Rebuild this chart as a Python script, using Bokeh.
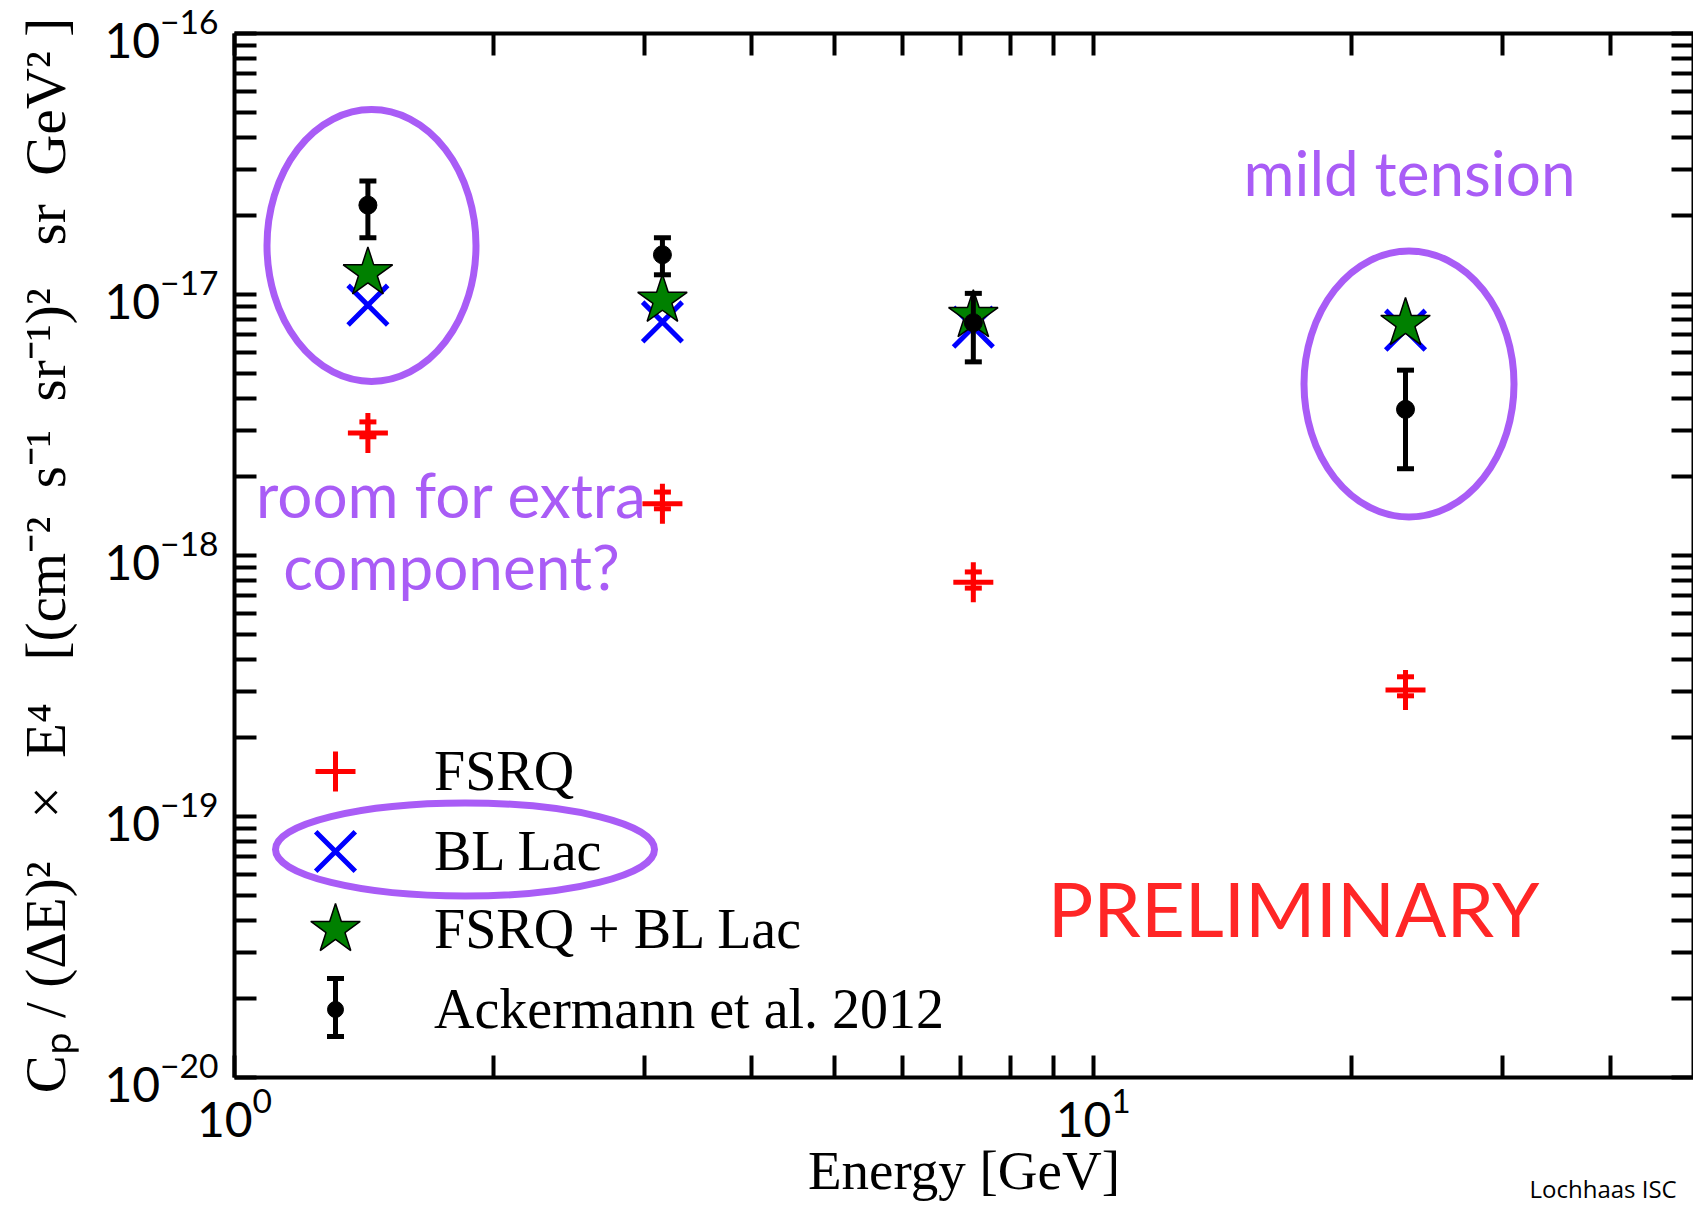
import numpy as np
from bokeh.plotting import figure
from bokeh.models import (Range1d, LogAxis, FixedTicker, CustomJSTickFormatter, Whisker, TeeHead,
                          ColumnDataSource, Legend, LegendItem, Label, Title)
from bokeh.embed import file_html
from bokeh.resources import INLINE

# ---------------- data ----------------
energy = [1.43, 3.15, 7.25, 23.1]                       # GeV
fsrq = [2.95e-18, 1.58e-18, 7.9e-19, 3.05e-19]
fsrq_hi = [3.25e-18, 1.75e-18, 8.65e-19, 3.43e-19]
fsrq_lo = [2.85e-18, 1.51e-18, 7.5e-19, 2.9e-19]
bllac = [9.1e-18, 7.85e-18, 7.5e-18, 7.3e-18]
combined = [1.21e-17, 9.5e-18, 8.3e-18, 7.74e-18]
ackermann = [2.20e-17, 1.42e-17, 7.8e-18, 3.63e-18]
ack_hi = [2.72e-17, 1.65e-17, 1.01e-17, 5.13e-18]
ack_lo = [1.65e-17, 1.19e-17, 5.52e-18, 2.15e-18]

x_major = [1, 10]
x_minor = [2, 3, 4, 5, 6, 7, 8, 9, 20, 30, 40]
y_major = [1e-20, 1e-19, 1e-18, 1e-17, 1e-16]
y_minor = [k * 10.0 ** e for e in range(-20, -16) for k in range(2, 10)]

series_labels = ["FSRQ", "BL Lac", "FSRQ + BL Lac", "Ackermann et al. 2012"]

# ---------------- layout constants ----------------
W, H = 1693, 1205
FL, FT, FR, FB = 234, 33, 1693, 1077
XMIN, XMAX = 1.0, 50.0
YMIN, YMAX = 1e-20, 1e-16
PX_DEC_X = (FR - FL) / (np.log10(XMAX) - np.log10(XMIN))
PX_DEC_Y = (FB - FT) / (np.log10(YMAX) - np.log10(YMIN))


def sx(px):
    return 10 ** (np.log10(XMIN) + (px - FL) / PX_DEC_X)


def sy(py):
    return 10 ** (np.log10(YMAX) - (py - FT) / PX_DEC_Y)


PURPLE = "#A95CF6"
SERIF = "Liberation Serif"
SANS = "Lato"
NB = "\u00a0"

p = figure(width=W, height=H, x_axis_type="log", y_axis_type="log",
           x_range=Range1d(XMIN, XMAX), y_range=Range1d(YMIN, YMAX),
           output_backend="svg", toolbar_location=None,
           min_border_left=FL, min_border_right=0, min_border_top=FT,
           min_border_bottom=H - FB)
p.outline_line_color = None
p.xgrid.visible = False
p.ygrid.visible = False
p.background_fill_color = "white"
p.border_fill_color = "white"


def style_axis(ax, tick_len=22):
    ax.axis_line_width = 4
    ax.axis_line_color = "black"
    ax.major_tick_in = tick_len
    ax.major_tick_out = 0
    ax.minor_tick_in = tick_len
    ax.minor_tick_out = 0
    ax.major_tick_line_width = 4
    ax.minor_tick_line_width = 4
    ax.major_tick_line_color = "black"
    ax.minor_tick_line_color = "black"
    ax.major_label_text_color = "black"
    ax.axis_label_text_color = "black"


# bottom / left axes
xa = p.xaxis[0]
xa.ticker = FixedTicker(ticks=x_major, minor_ticks=x_minor)
style_axis(xa)
xa.major_label_text_font = SANS
xa.major_label_text_font_size = "48px"
xa.major_label_standoff = 10
xa.axis_label = "Energy [GeV]"
xa.axis_label_text_font = SERIF
xa.axis_label_text_font_size = "55px"
xa.axis_label_text_font_style = "normal"
xa.axis_label_standoff = 0

ya = p.yaxis[0]
ya.ticker = FixedTicker(ticks=y_major, minor_ticks=y_minor)
style_axis(ya)
ya.major_label_text_font = SANS
ya.major_label_text_font_size = "48px"
ya.major_label_standoff = 16
ya.axis_label = ("Cₚ" + NB + "/" + NB + "(ΔE)²" + NB * 3 + "×" + NB * 2 + "E⁴" + NB * 3 +
                 "[(cm⁻²" + NB * 2 + "s⁻¹" + NB * 2 + "sr⁻¹)²" + NB * 3 + "sr" + NB * 2 + "GeV²" + NB + "]")
ya.axis_label_text_font = SERIF
ya.axis_label_text_font_size = "57px"
ya.axis_label_text_font_style = "normal"
ya.axis_label_standoff = 24

blank = CustomJSTickFormatter(code="return ''")
top = LogAxis(ticker=FixedTicker(ticks=x_major, minor_ticks=x_minor), formatter=blank,
              major_label_standoff=0)
style_axis(top)
p.add_layout(top, "above")
right = LogAxis(ticker=FixedTicker(ticks=y_major, minor_ticks=y_minor), formatter=blank,
                major_label_standoff=0)
style_axis(right)
p.add_layout(right, "right")

# footer text at the bottom-right corner (a panel title, so it is not clipped to the frame)
p.add_layout(Title(text="Lochhaas ISC", align="left", vertical_align="top",
                   offset=1529 - FL, standoff=-64, text_font="Open Sans",
                   text_font_size="24px", text_font_style="normal", text_color="black"),
             "below")

# ---------------- highlight ellipses (annotations) ----------------
ell = ColumnDataSource(dict(
    x=[sx(371), sx(1408.5), sx(464.5)],
    y=[sy(245), sy(383.5), sy(849)],
    w=[209, 210, 379],
    h=[272, 266, 93],
))
p.ellipse(x="x", y="y", width="w", height="h", width_units="screen", height_units="screen",
          source=ell, fill_alpha=0, line_color=PURPLE, line_width=7)

# ---------------- data glyphs ----------------
src = ColumnDataSource(dict(energy=energy, fsrq=fsrq, fsrq_hi=fsrq_hi, fsrq_lo=fsrq_lo,
                            bllac=bllac, combined=combined, ack=ackermann,
                            ack_hi=ack_hi, ack_lo=ack_lo))

p.add_layout(Whisker(source=src, base="energy", upper="fsrq_hi", lower="fsrq_lo",
                     line_color="red", line_width=5,
                     upper_head=TeeHead(size=17, line_color="red", line_width=5),
                     lower_head=TeeHead(size=17, line_color="red", line_width=5),
                     level="glyph"))
r_fsrq = p.scatter("energy", "fsrq", source=src, marker="cross", size=40,
                   line_color="red", line_width=5)
r_bl = p.scatter("energy", "bllac", source=src, marker="x", size=56,
                 line_color="blue", line_width=5)
r_comb = p.scatter("energy", "combined", source=src, marker="star", size=52,
                   fill_color="green", line_color="black", line_width=1.5)
p.add_layout(Whisker(source=src, base="energy", upper="ack_hi", lower="ack_lo",
                     line_color="black", line_width=5,
                     upper_head=TeeHead(size=17, line_color="black", line_width=5),
                     lower_head=TeeHead(size=17, line_color="black", line_width=5),
                     level="glyph"))
r_ack = p.scatter("energy", "ack", source=src, marker="circle", size=18,
                  fill_color="black", line_color="black")

# ---------------- legend (one box per entry to control key sizes) ----------------
LEG_X = 335          # key centre
LEG_TX = 434         # label left edge
LEG_ROWS = [771, 851, 929, 1007]


def add_legend(label, renderer, box, row, label_h=None):
    h = box if label_h is None else max(box, label_h)
    leg = Legend(items=[LegendItem(label=label, renderers=[renderer])],
                 location=(LEG_X - box / 2 - FL, FB - row - h / 2),
                 glyph_width=box, glyph_height=box, label_standoff=int(LEG_TX - LEG_X - box / 2),
                 padding=0, margin=0, label_text_font=SERIF, label_text_font_size="56px",
                 label_text_color="black", background_fill_alpha=0, border_line_alpha=0)
    p.add_layout(leg)


add_legend(series_labels[0], r_fsrq, 100, LEG_ROWS[0])
add_legend(series_labels[1], r_bl, 140, LEG_ROWS[1])
add_legend(series_labels[2], r_comb, 130, LEG_ROWS[2])
add_legend(series_labels[3], r_ack, 40, LEG_ROWS[3], label_h=67)

# error-bar key of the Ackermann legend entry
key = ColumnDataSource(dict(x=[sx(LEG_X)], hi=[sy(LEG_ROWS[3] - 29)], lo=[sy(LEG_ROWS[3] + 29)]))
p.add_layout(Whisker(source=key, base="x", upper="hi", lower="lo",
                     line_color="black", line_width=5,
                     upper_head=TeeHead(size=17, line_color="black", line_width=5),
                     lower_head=TeeHead(size=17, line_color="black", line_width=5)))


# ---------------- text annotations ----------------
def add_text(px, base_py, text, size, color, font=SANS, align="center"):
    # base_py: wanted baseline (screen px); Label's alphabetic anchor sits ~0.37em lower
    p.add_layout(Label(x=sx(px), y=sy(base_py - 0.37 * size), text=text, text_font=font,
                       text_font_size=f"{size}px", text_color=color, text_align=align,
                       text_baseline="alphabetic"))


add_text(451, 516, "room for extra", 62, PURPLE)
add_text(451, 588, "component?", 62, PURPLE)
add_text(1409, 194, "mild tension", 62, PURPLE)
add_text(1293, 935, "PRELIMINARY", 76, "#FF2626")

open("out.html", "w").write(file_html(p, INLINE))
